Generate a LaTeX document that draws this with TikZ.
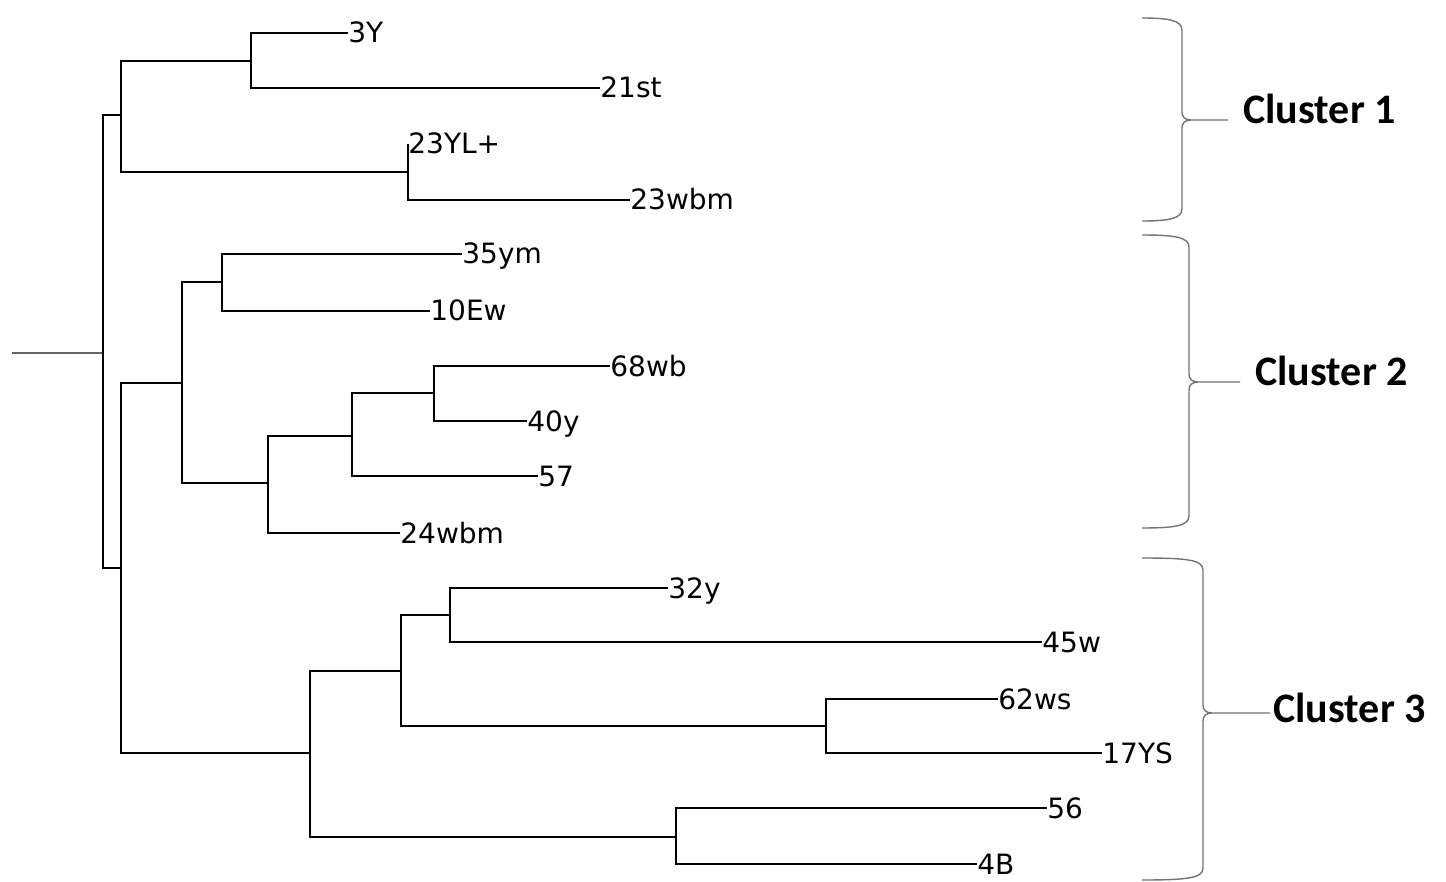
\documentclass[tikz,border=0pt]{standalone}
\usepackage{fontspec}
\setmainfont{DejaVu Sans}
\newfontfamily\clusterfont{Carlito}

% curly bracket: #1 spine x, #2 top y, #3 tip y, #4 bottom y, #5 end x of the tail
\newcommand{\clusterbrace}[5]{%
  \draw[brace] (1142,#2) .. controls (#1-15,#2) and (#1,#2+2) .. (#1,#2+12)
     -- (#1,#3-8) .. controls (#1,#3-3) and (#1+3,#3) .. (#1+9,#3) -- (#5,#3)
     (#1+9,#3) .. controls (#1+3,#3) and (#1,#3+3) .. (#1,#3+8)
     -- (#1,#4-12) .. controls (#1,#4-2) and (#1-15,#4) .. (1142,#4);}

\begin{document}
\begin{tikzpicture}[x=0.5pt,y=-0.5pt,
  branch/.style={draw=black, line width=1pt},
  stemline/.style={draw=black!60, line width=0.6pt},
  brace/.style={draw=black!55, line width=0.7pt},
  leaf/.style={anchor=base west, inner sep=0pt, yshift=-5pt,
               font=\fontsize{14}{16}\selectfont},
  clab/.style={anchor=base west, inner sep=0pt,
               font=\clusterfont\bfseries\fontsize{21}{24}\selectfont}]
\useasboundingbox (0,0) rectangle (1446,882);

% internal nodes of the tree
\coordinate (R)   at (103,341);
\coordinate (C1)  at (121,115);
\coordinate (A)   at (251,61);
\coordinate (B)   at (408,172);
\coordinate (C23) at (121,568);
\coordinate (C2)  at (182,383);
\coordinate (D)   at (222,282);
\coordinate (E)   at (268,483);
\coordinate (F)   at (352,436);
\coordinate (G)   at (434,393);
\coordinate (C3)  at (310,753);
\coordinate (H)   at (401,671);
\coordinate (J)   at (450,615);
\coordinate (K)   at (826,726);
\coordinate (I)   at (676,837);

% leaf tips
\coordinate (l3Y)    at (348,33);
\coordinate (l21st)  at (600,88);
\coordinate (l23YL)  at (408,144);
\coordinate (l23wbm) at (630,200);
\coordinate (l35ym)  at (462,254);
\coordinate (l10Ew)  at (430,311);
\coordinate (l68wb)  at (610,366);
\coordinate (l40y)   at (527,421);
\coordinate (l57)    at (538,476);
\coordinate (l24wbm) at (400,533);
\coordinate (l32y)   at (668,588);
\coordinate (l45w)   at (1042,642);
\coordinate (l62ws)  at (998,699);
\coordinate (l17YS)  at (1102,753);
\coordinate (l56)    at (1047,808);
\coordinate (l4B)    at (977,864);

% leaf labels
\node[leaf] (t3Y)    at (l3Y)    {3Y};
\node[leaf] (t21st)  at (l21st)  {21st};
\node[leaf] (t23YL)  at (l23YL)  {23YL+};
\node[leaf] (t23wbm) at (l23wbm) {23wbm};
\node[leaf] (t35ym)  at (l35ym)  {35ym};
\node[leaf] (t10Ew)  at (l10Ew)  {10Ew};
\node[leaf] (t68wb)  at (l68wb)  {68wb};
\node[leaf] (t40y)   at (l40y)   {40y};
\node[leaf] (t57)    at (l57)    {57};
\node[leaf] (t24wbm) at (l24wbm) {24wbm};
\node[leaf] (t32y)   at (l32y)   {32y};
\node[leaf] (t45w)   at (l45w)   {45w};
\node[leaf] (t62ws)  at (l62ws)  {62ws};
\node[leaf] (t17YS)  at (l17YS)  {17YS};
\node[leaf] (t56)    at (l56)    {56};
\node[leaf] (t4B)    at (l4B)    {4B};

% root stem
\coordinate (stem) at (12,353);
\draw[stemline] (stem) -- (stem -| R);

% branches: vertical from parent, then horizontal to child
\foreach \p/\c in {R/C1, R/C23, C1/A, C1/B, A/l3Y, A/l21st, B/l23YL, B/l23wbm,
                   C23/C2, C23/C3, C2/D, C2/E, D/l35ym, D/l10Ew, E/F, E/l24wbm,
                   F/G, F/l57, G/l68wb, G/l40y, C3/H, C3/I, H/J, H/K,
                   J/l32y, J/l45w, K/l62ws, K/l17YS, I/l56, I/l4B}
  \draw[branch] (\p) |- (\c);

% cluster brackets and their names
\clusterbrace{1182}{18}{120}{221}{1228}
\clusterbrace{1189}{235}{382}{528}{1240}
\clusterbrace{1203}{558}{713}{880}{1270}
\node[clab] (c1) at (1243,124) {Cluster 1};
\node[clab] (c2) at (1255,386) {Cluster 2};
\node[clab] (c3) at (1273,722) {Cluster 3};
\end{tikzpicture}
\end{document}
